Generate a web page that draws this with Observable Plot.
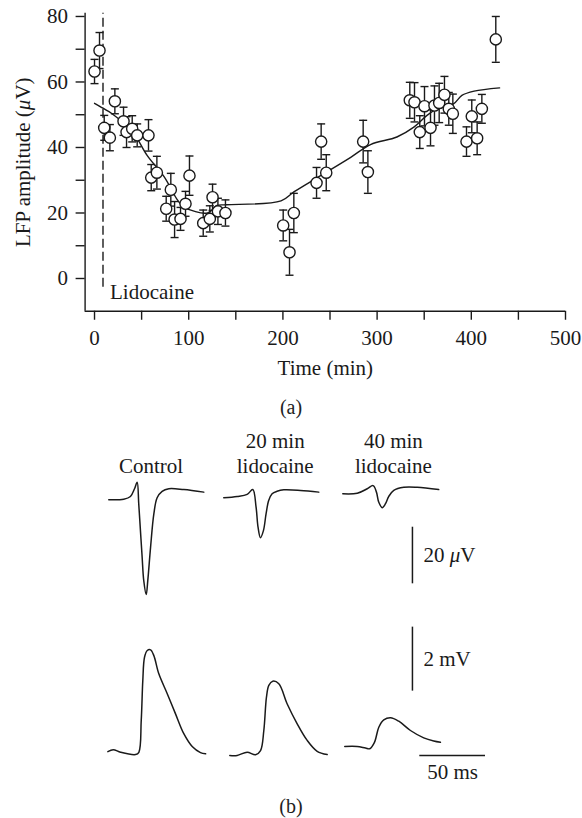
<!DOCTYPE html>
<html><head><meta charset="utf-8">
<script src="https://cdn.jsdelivr.net/npm/d3@7"></script>
<script src="https://cdn.jsdelivr.net/npm/@observablehq/plot@0.6"></script>
<style>
body{margin:0;background:#fff;width:582px;height:818px;overflow:hidden;position:relative;font-family:"Liberation Serif",serif;color:#222}
.blk{position:absolute;left:0;width:582px}
.cap{position:absolute;left:0;width:582px;text-align:center;font-size:20px;line-height:22px}
</style></head><body>
<div id="a" class="blk" style="top:0"></div>
<div class="cap" style="top:396px">(a)</div>
<div id="b1" class="blk" style="top:420px"></div>
<div id="b2" class="blk" style="top:600px"></div>
<div class="cap" style="top:795px">(b)</div>
<script>
// ---------- Panel (a) data ----------
const timeMin = [0, 5.3, 10.3, 16.3, 21.6, 30.8, 34, 40, 45.3, 57.3, 60.2, 66.2, 76.1, 81, 85, 91.3, 96.6, 100.8, 115.4, 122.4, 125.3, 131, 139, 200.3, 207, 211.6, 235.7, 240.6, 246, 285.2, 290.2, 334.7, 339.7, 345.3, 350.3, 356.7, 360.9, 365.9, 371.5, 376.1, 380.4, 394.9, 400.5, 406.2, 411.2, 426];
const lfpAmp = [63.2, 69.6, 46, 43, 54.1, 48, 44.7, 45.7, 43.7, 43.7, 30.8, 32.3, 21.3, 27.1, 18, 18.2, 22.8, 31.4, 16.9, 18.2, 24.8, 20.5, 20, 16.2, 8, 20, 29.2, 41.8, 32.3, 41.8, 32.5, 54.4, 53.8, 44.7, 52.6, 46, 52.8, 53.6, 56.1, 51.8, 50.3, 41.8, 49.5, 42.8, 51.8, 73];
const lfpSem = [3.7, 5.5, 3.8, 4, 3.8, 4.3, 4.7, 4, 3.5, 4.8, 4, 5, 3.8, 5, 5.5, 3.5, 3.8, 6, 4, 4, 4, 4, 4, 4.7, 7, 6, 4.7, 5.4, 5.5, 6.5, 6.5, 5.5, 6, 5, 6, 5.5, 6, 6, 5.6, 5, 6, 4.5, 5, 5, 4.4, 7];
const fitTime = [0, 6, 20, 40, 56, 74, 88, 95, 120, 130, 140, 198, 212, 240, 272, 293, 321, 339, 353, 367, 381, 390, 403, 430];
const fitAmp = [53.5, 52.5, 50, 45, 37.5, 31, 24, 21.8, 20, 22.3, 22.5, 23.7, 26.5, 31.4, 37, 40.9, 43.2, 46.2, 49.8, 52.3, 53.3, 55.9, 57.2, 58.2];
const lidocaineOnset = 9;
const xTicks = [0, 50, 100, 150, 200, 250, 300, 350, 400, 450, 500];
const yTicks = [0, 10, 20, 30, 40, 50, 60, 70, 80];

// ---------- Panel (b) data ----------
const conditions = ["Control", "20 min\nlidocaine", "40 min\nlidocaine"];
// LFP traces (ms from sweep start, µV)
const lfpT_ctrl = [0, 11.4, 16.5, 19.6, 21.6, 22.8, 24.1, 25.4, 26.6, 28.5, 29.7, 31.8, 34.3, 36.8, 40.6, 45.7, 57.1, 72.3];
const lfpV_ctrl = [-0.8, -0.6, 0.35, 3.1, 5.4, -2.2, -11.7, -21.1, -29.3, -34.3, -29.3, -17.6, -5.8, -0.1, 2.2, 3.1, 2.8, 1.9];
const lfpT_20 = [0, 10.2, 17.8, 22.1, 24.6, 26.1, 27.9, 30.2, 32.2, 34.2, 36.8, 40.6, 45.7, 58.4, 72.3];
const lfpV_20 = [-0.1, 0.35, 1.1, 2.8, -3.4, -10.5, -14.2, -11.7, -5.8, -1.1, 1.3, 2.2, 2.7, 2.5, 1.9];
const lfpT_40 = [0, 11, 18.6, 23.1, 25.6, 27.4, 30, 32.5, 35, 38.8, 46.4, 56.6, 73];
const lfpV_40 = [1.3, 1.5, 3.1, 4.2, 1.9, -1.7, -3.6, -2.2, 0.4, 2.5, 3.6, 3.6, 2.8];
// Intracellular traces (ms from sweep start, mV)
const vmT_ctrl = [0, 4.1, 9.7, 21.1, 23.6, 25.4, 26.6, 27.9, 30, 32.5, 35, 38.8, 45.2, 51.5, 57.8, 64.2, 70.5, 74.4];
const vmV_ctrl = [0.09, 0.15, 0.07, 0, 0.07, 1.06, 2.31, 3.04, 3.25, 3.27, 3.09, 2.52, 1.9, 1.27, 0.65, 0.25, 0.06, 0.02];
const vmT_20 = [0, 5.6, 13.2, 19.6, 23.4, 25.9, 27.9, 29.7, 32.7, 37.3, 43.7, 51.3, 58.9, 66.5, 74.1];
const vmV_20 = [-0.03, -0.03, 0.07, -0.01, 0.12, 0.75, 1.79, 2.16, 2.29, 2.21, 1.58, 0.96, 0.44, 0.1, 0];
const vmT_40 = [0, 9.4, 15.8, 19, 22.6, 25.9, 29.7, 34.8, 41.1, 50, 60.1, 67.7, 72.8];
const vmV_40 = [0.25, 0.25, 0.2, 0.18, 0.38, 0.85, 1.08, 1.15, 1.04, 0.75, 0.52, 0.42, 0.38];
const scaleLfp = 20;   // µV
const scaleVm = 2;     // mV
const scaleTime = 50;  // ms
const scaleLfpLabel = "20 μV";
const scaleVmLabel = "2 mV";
const scaleTimeLabel = "50 ms";

// ---------- helpers ----------
const INK = "#1a1a1a";
const FONT = "Liberation Serif, Times New Roman, serif";
const FS = "21px";
const capSymbol = {draw(ctx, size) { const r = Math.sqrt(size / Math.PI); ctx.moveTo(-r, 0); ctx.lineTo(r, 0); }};
function italicMu(svg) {
  svg.querySelectorAll("text, tspan").forEach(el => {
    if (el.children.length === 0 && el.textContent.includes("μ")) {
      const parts = el.textContent.split("μ");
      el.textContent = "";
      parts.forEach((p, i) => {
        if (i > 0) {
          const t = document.createElementNS("http://www.w3.org/2000/svg", "tspan");
          t.setAttribute("font-style", "italic");
          t.textContent = "μ";
          el.appendChild(t);
        }
        el.appendChild(document.createTextNode(p));
      });
    }
  });
}

// ---------- Panel (a) ----------
const pts = timeMin.map((t, i) => ({t, y: lfpAmp[i], lo: lfpAmp[i] - lfpSem[i], hi: lfpAmp[i] + lfpSem[i]}));
const fit = fitTime.map((t, i) => ({t, y: fitAmp[i]}));
const H_A = 385;
const plotA = Plot.plot({
  width: 582, height: H_A,
  marginLeft: 84.6, marginRight: 17, marginTop: 12.7, marginBottom: H_A - 310.75,
  x: {domain: [-10, 500]},
  y: {domain: [-10, 81]},
  style: {fontFamily: FONT, fontSize: FS, color: INK, background: "white", overflow: "visible"},
  marks: [
    Plot.ruleY([-10], {x1: -10, x2: 500, stroke: INK, strokeWidth: 1.4}),
    Plot.ruleX([-10], {y1: -10, y2: 81, stroke: INK, strokeWidth: 1.4}),
    Plot.axisX({ticks: xTicks, tickSize: 9, tickPadding: 10, strokeWidth: 1.4, tickFormat: d => d % 100 === 0 ? String(d) : "",
      label: "Time (min)", labelAnchor: "center", labelArrow: "none", labelOffset: 64}),
    Plot.axisY({ticks: yTicks, tickSize: 9, tickPadding: 8, strokeWidth: 1.4, tickFormat: d => d % 20 === 0 ? String(d) : "",
      label: "LFP amplitude (μV)", labelAnchor: "center", labelArrow: "none", labelOffset: 70}),
    Plot.ruleX([lidocaineOnset], {y1: -2.7, y2: 81, stroke: INK, strokeWidth: 1.4, strokeDasharray: "9,4"}),
    Plot.text(["Lidocaine"], {x: lidocaineOnset, y: -4.3, dx: 7, textAnchor: "start", fill: INK}),
    Plot.line(fit, {x: "t", y: "y", curve: "catmull-rom", stroke: INK, strokeWidth: 1.4}),
    Plot.ruleX(pts, {x: "t", y1: "lo", y2: "hi", stroke: INK, strokeWidth: 1.4}),
    Plot.dot(pts, {x: "t", y: "hi", symbol: capSymbol, r: 4, stroke: INK, strokeWidth: 1.4}),
    Plot.dot(pts, {x: "t", y: "lo", symbol: capSymbol, r: 4, stroke: INK, strokeWidth: 1.4}),
    Plot.dot(pts, {x: "t", y: "y", r: 5.6, fill: "white", stroke: INK, strokeWidth: 1.4})
  ]
});
italicMu(plotA);
document.getElementById("a").appendChild(plotA);

// ---------- Panel (b) ----------
const msPx = 1.314;                 // px per ms
const xDomB = [0, 582 / msPx];
const lfpOffsets = [82.4, 169.9, 260.5];
const vmOffsets = [81.7, 174.5, 262.0];
const labelNudge = [-4, 3, 2];      // ms, layout only
const barX = 313.5;

const lfpTraces = [[lfpT_ctrl, lfpV_ctrl], [lfpT_20, lfpV_20], [lfpT_40, lfpV_40]];
const vmTraces = [[vmT_ctrl, vmV_ctrl], [vmT_20, vmV_20], [vmT_40, vmV_40]];
const lfpRows = lfpTraces.flatMap(([T, V], k) => T.map((t, i) => ({cond: conditions[k], x: t + lfpOffsets[k], v: V[i]})));
const vmRows = vmTraces.flatMap(([T, V], k) => T.map((t, i) => ({cond: conditions[k], x: t + vmOffsets[k], v: V[i]})));
const labelRows = lfpTraces.map(([T], k) => ({label: conditions[k], x: lfpOffsets[k] + T[T.length - 1] / 2 + labelNudge[k]}));

const lfpPx = 2.83; // px per µV
const H_B1 = 180, base1 = 77;
const plotB1 = Plot.plot({
  width: 582, height: H_B1, margin: 0,
  x: {domain: xDomB, axis: null},
  y: {domain: [(base1 - H_B1) / lfpPx, base1 / lfpPx], axis: null},
  style: {fontFamily: FONT, fontSize: FS, color: INK, background: "white", overflow: "visible"},
  marks: [
    Plot.line(lfpRows, {x: "x", y: "v", z: "cond", curve: "catmull-rom", stroke: INK, strokeWidth: 1.5}),
    Plot.text(labelRows, {x: "x", text: "label", frameAnchor: "top", dy: 52, lineAnchor: "bottom", lineHeight: 1.15, fill: INK}),
    Plot.ruleX([barX], {y1: -30.5, y2: -30.5 + scaleLfp, stroke: INK, strokeWidth: 1.5}),
    Plot.text([scaleLfpLabel], {x: barX, y: -30.5 + scaleLfp / 2, dx: 11, textAnchor: "start", fill: INK})
  ]
});
italicMu(plotB1);
document.getElementById("b1").appendChild(plotB1);

const vmPx = 32; // px per mV
const H_B2 = 190, base2 = 154;
const timeBarStart = 319.1, timeBarY = -0.03;
const plotB2 = Plot.plot({
  width: 582, height: H_B2, margin: 0,
  x: {domain: xDomB, axis: null},
  y: {domain: [(base2 - H_B2) / vmPx, base2 / vmPx], axis: null},
  style: {fontFamily: FONT, fontSize: FS, color: INK, background: "white", overflow: "visible"},
  marks: [
    Plot.line(vmRows, {x: "x", y: "v", z: "cond", curve: "catmull-rom", stroke: INK, strokeWidth: 1.5}),
    Plot.ruleX([barX], {y1: 1.98, y2: 1.98 + scaleVm, stroke: INK, strokeWidth: 1.5}),
    Plot.text([scaleVmLabel], {x: barX, y: 1.98 + scaleVm / 2, dx: 11, textAnchor: "start", fill: INK}),
    Plot.ruleY([timeBarY], {x1: timeBarStart, x2: timeBarStart + scaleTime, stroke: INK, strokeWidth: 1.5}),
    Plot.text([scaleTimeLabel], {x: timeBarStart + scaleTime / 2, y: timeBarY, dy: 17, fill: INK})
  ]
});
document.getElementById("b2").appendChild(plotB2);
</script>
</body></html>
